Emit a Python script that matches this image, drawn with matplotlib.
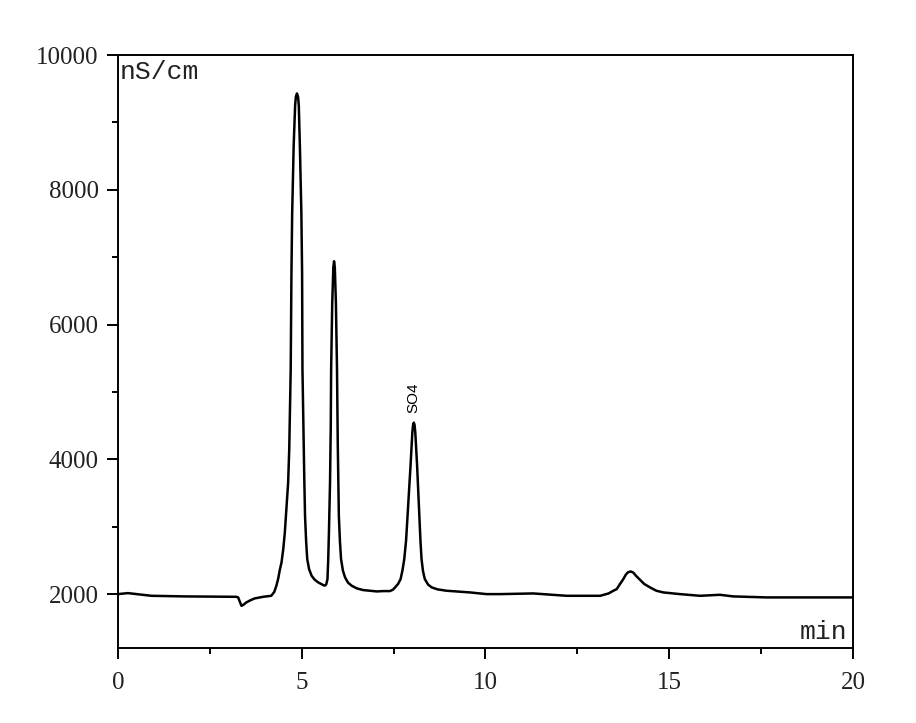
import matplotlib
matplotlib.use("Agg")
import matplotlib.pyplot as plt
from matplotlib.ticker import AutoMinorLocator

# chromatogram trace (time in min, signal in nS/cm)
time_min = [
    0.00, 0.27, 0.91, 1.81, 2.60, 3.22, 3.27, 3.36, 3.41, 3.49, 3.59, 3.72, 3.95, 4.17,
    4.25, 4.31, 4.36, 4.40, 4.45, 4.50, 4.54, 4.58, 4.61, 4.63, 4.66, 4.68, 4.70,
    4.72, 4.74, 4.78, 4.82, 4.84, 4.87, 4.90, 4.92, 4.95, 4.99, 5.01, 5.02, 5.05,
    5.07, 5.09, 5.12, 5.15, 5.20, 5.27, 5.35, 5.45, 5.55, 5.60, 5.64, 5.67, 5.70,
    5.72, 5.74, 5.77, 5.79, 5.80, 5.83, 5.86, 5.88, 5.90, 5.93, 5.96, 5.98, 6.01,
    6.04, 6.07, 6.12, 6.18, 6.26, 6.36, 6.50, 6.67, 7.04, 7.22, 7.40, 7.48, 7.54,
    7.62, 7.69, 7.74, 7.79, 7.84, 7.88, 7.96, 8.01, 8.03, 8.05, 8.07, 8.09, 8.14,
    8.20, 8.23, 8.26, 8.30, 8.35, 8.44, 8.54, 8.70, 8.94, 9.58, 10.03, 10.39,
    11.30, 12.21, 13.12, 13.35, 13.48, 13.57, 13.66, 13.75, 13.82, 13.88, 13.95,
    14.02, 14.10, 14.20, 14.32, 14.48, 14.65, 14.84, 15.29, 15.84, 16.38, 16.74,
    17.65, 19.96, 20.00,
]
signal_ns = [
    2000, 2015, 1975, 1966, 1962, 1960, 1951, 1826, 1840, 1876, 1905, 1936, 1960, 1975,
    2030, 2124, 2230, 2350, 2470, 2680, 2914, 3250, 3500, 3654, 4148, 4700, 5333,
    6766, 7655, 8642, 9250, 9380, 9430, 9380, 9250, 8642, 7655, 6766, 5333, 4345,
    3700, 3160, 2780, 2519, 2370, 2272, 2215, 2173, 2145, 2130, 2128, 2150, 2222,
    2500, 2914, 3654, 4500, 5333, 6321, 6850, 6940, 6850, 6321, 5333, 4250, 3160,
    2780, 2519, 2350, 2247, 2170, 2124, 2085, 2060, 2040, 2045, 2045, 2065, 2099,
    2150, 2222, 2350, 2519, 2800, 3160, 3901, 4400, 4510, 4545, 4510, 4400, 3901,
    3160, 2800, 2519, 2340, 2222, 2140, 2099, 2070, 2050, 2025, 2000, 2000,
    2010, 1975, 1975, 2010, 2050, 2074, 2150, 2222, 2290, 2325, 2336,
    2320, 2270, 2215, 2150, 2099, 2050, 2025, 2000, 1975, 1990, 1966,
    1951, 1951, 1951,
]

x_ticks = [0, 5, 10, 15, 20]
y_ticks = [2000, 4000, 6000, 8000, 10000]
peak_label = "SO4"
peak_time = 8.05
peak_height = 4545

fig = plt.figure(figsize=(9.16, 7.23), dpi=100)
ax = fig.add_axes([0.1288, 0.1037, 0.8024, 0.8202])

ax.plot(time_min, signal_ns, color="black", linewidth=1.8, solid_joinstyle="round")

ax.set_xlim(0, 20)
ax.set_ylim(1200, 10000)
ax.set_xticks(x_ticks)
ax.set_yticks(y_ticks)
ax.xaxis.set_minor_locator(AutoMinorLocator(2))
ax.yaxis.set_minor_locator(AutoMinorLocator(2))

for s in ax.spines.values():
    s.set_linewidth(1.4)
ax.tick_params(which="both", direction="out", top=False, right=False, width=1.4)
ax.tick_params(which="major", length=8)
ax.tick_params(which="minor", length=4)
ax.tick_params(axis="x", which="major", pad=9)
ax.tick_params(axis="y", which="major", pad=6)
for lab in ax.get_xticklabels() + ax.get_yticklabels():
    lab.set_fontfamily("Liberation Serif")
    lab.set_fontsize(18)
    lab.set_color("#222222")

ax.text(0.003, 0.992, "nS/cm", transform=ax.transAxes, ha="left", va="top",
        family="Liberation Mono", fontsize=19, color="#222222")
ax.text(0.992, 0.015, "min", transform=ax.transAxes, ha="right", va="baseline",
        family="Liberation Mono", fontsize=19, color="#222222")

ax.annotate(peak_label, (peak_time, peak_height), xytext=(0, 7),
            textcoords="offset points", rotation=90, ha="center", va="bottom",
            family="Liberation Sans", fontsize=11)

fig.savefig("out.png", dpi=100)
